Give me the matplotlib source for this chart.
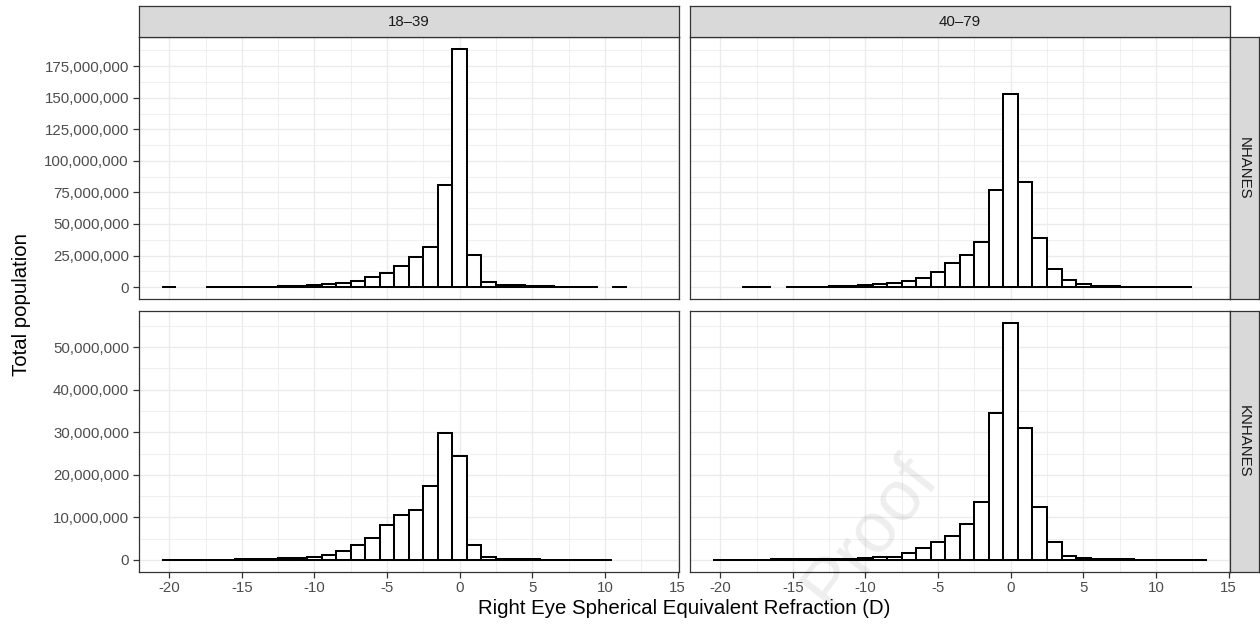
import matplotlib
matplotlib.use("Agg")
import matplotlib.pyplot as plt
from matplotlib.ticker import FuncFormatter, MultipleLocator

plt.rcParams['font.family'] = ['Liberation Sans', 'DejaVu Sans']

# ---------------- data (values in millions of persons) ----------------
age_groups = ["18\u201339", "40\u201379"]
surveys = ["NHANES", "KNHANES"]

# NHANES 18-39
bins_nh_young = [-20, -17, -16, -15, -14, -13, -12, -11, -10, -9, -8, -7, -6, -5, -4, -3, -2, -1,
                 0, 1, 2, 3, 4, 5, 6, 7, 8, 9, 11]
vals_nh_young = [0.15, 0.1, 0.1, 0.15, 0.2, 0.3, 0.5, 0.8, 1.3, 2.1, 3.1, 4.6, 8.3, 10.9, 16.8, 23.6, 32.0, 81.1,
                 188.5, 25.1, 4.2, 1.9, 1.3, 0.7, 0.5, 0.4, 0.3, 0.2, 0.1]

# NHANES 40-79
bins_nh_old = [-18, -17, -15, -14, -13, -12, -11, -10, -9, -8, -7, -6, -5, -4, -3, -2, -1,
               0, 1, 2, 3, 4, 5, 6, 7, 8, 9, 10, 11, 12]
vals_nh_old = [0.1, 0.1, 0.2, 0.3, 0.4, 0.5, 0.8, 1.3, 2.1, 3.4, 4.7, 6.9, 12.3, 18.8, 25.4, 35.5, 76.7,
               153.0, 83.6, 38.6, 14.4, 5.5, 2.6, 1.2, 0.6, 0.4, 0.3, 0.2, 0.2, 0.1]

# KNHANES 18-39
bins_kn_young = list(range(-20, 11))
vals_kn_young = [0.02, 0.02, 0.03, 0.05, 0.05, 0.1, 0.12, 0.15, 0.35, 0.45, 0.7, 1.1, 2.1, 3.4, 5.2, 8.2,
                 10.5, 11.7, 17.4, 29.8, 24.4, 3.4, 0.6, 0.3, 0.15, 0.1, 0.05, 0.05, 0.03, 0.02, 0.02]

# KNHANES 40-79
bins_kn_old = list(range(-20, 14))
vals_kn_old = [0.02, 0.02, 0.03, 0.05, 0.08, 0.1, 0.15, 0.15, 0.2, 0.3, 0.5, 0.6, 0.7, 1.5, 2.7, 4.2,
               5.7, 8.5, 13.7, 34.5, 55.8, 31.1, 12.5, 4.2, 1.0, 0.45, 0.2, 0.1, 0.1, 0.05, 0.03, 0.03,
               0.03, 0.03]

MILLION = 1e6
panels = {
    ("NHANES", 0): (bins_nh_young, vals_nh_young),
    ("NHANES", 1): (bins_nh_old, vals_nh_old),
    ("KNHANES", 0): (bins_kn_young, vals_kn_young),
    ("KNHANES", 1): (bins_kn_old, vals_kn_old),
}
y_major = {"NHANES": 25e6, "KNHANES": 10e6}

x_title = "Right Eye Spherical Equivalent Refraction (D)"
y_title = "Total population"

# ---------------- layout ----------------
W, H = 1260, 630
fig = plt.figure(figsize=(W / 100, H / 100), dpi=100)


def ax_at(x0, y0, x1, y1, **kw):
    return fig.add_axes([x0 / W, 1 - y1 / H, (x1 - x0) / W, (y1 - y0) / H], **kw)


col_x = [(138.7, 678.7), (689.7, 1229.7)]
row_y = [(37.3, 299.0), (310.7, 571.7)]
strip_top = (6.0, 37.3)
strip_right = (1229.7, 1258.5)

GRID = "#EBEBEB"
EDGE = "#333333"
TICKTXT = "#4D4D4D"
fs_tick = 10.8
fs_title = 14.7

comma = FuncFormatter(lambda v, p: f"{int(round(v)):,}")
xfmt = FuncFormatter(lambda v, p: f"{int(round(v))}")

for r, survey in enumerate(surveys):
    row_max = max(max(panels[(survey, c)][1]) for c in range(2)) * MILLION
    for c in range(2):
        bins, vals = panels[(survey, c)]
        ax = ax_at(col_x[c][0], row_y[r][0], col_x[c][1], row_y[r][1])
        ax.set_facecolor("white")
        ax.bar(bins, [v * MILLION for v in vals], width=1.0, facecolor="white",
               edgecolor="black", linewidth=1.45, zorder=3)
        ax.set_xlim(-22.1, 15.08)
        ax.set_ylim(-0.05 * row_max, 1.05 * row_max)
        ax.xaxis.set_major_locator(MultipleLocator(5))
        ax.xaxis.set_minor_locator(MultipleLocator(2.5))
        ax.yaxis.set_major_locator(MultipleLocator(y_major[survey]))
        ax.yaxis.set_minor_locator(MultipleLocator(y_major[survey] / 2))
        ax.grid(which="major", color=GRID, linewidth=1.0, zorder=0)
        ax.grid(which="minor", color=GRID, linewidth=0.55, zorder=0)
        ax.set_axisbelow(True)
        for s in ax.spines.values():
            s.set_color(EDGE)
            s.set_linewidth(0.9)
        ax.tick_params(which="minor", length=0)
        ax.tick_params(which="major", direction="out", length=4.5, width=0.9, color=EDGE,
                       labelsize=fs_tick, labelcolor=TICKTXT, pad=2.5)
        ax.yaxis.set_major_formatter(comma)
        ax.xaxis.set_major_formatter(xfmt)
        if c != 0:
            ax.tick_params(axis="y", which="both", left=False, labelleft=False)
        if r != 1:
            ax.tick_params(axis="x", which="both", bottom=False, labelbottom=False)

# top strips
for c, lab in enumerate(age_groups):
    sax = ax_at(col_x[c][0], strip_top[0], col_x[c][1], strip_top[1])
    sax.set_facecolor("#D9D9D9")
    sax.set_xticks([]); sax.set_yticks([])
    for s in sax.spines.values():
        s.set_color(EDGE); s.set_linewidth(0.9)
    sax.text(0.5, 0.5, lab, transform=sax.transAxes, ha="center", va="center",
             fontsize=fs_tick, color="#1A1A1A")

# right strips
for r, lab in enumerate(surveys):
    sax = ax_at(strip_right[0], row_y[r][0], strip_right[1], row_y[r][1])
    sax.set_facecolor("#D9D9D9")
    sax.set_xticks([]); sax.set_yticks([])
    for s in sax.spines.values():
        s.set_color(EDGE); s.set_linewidth(0.9)
    sax.text(0.5, 0.5, lab, transform=sax.transAxes, ha="center", va="center",
             fontsize=fs_tick, color="#1A1A1A", rotation=-90)

# axis titles
fig.text((col_x[0][0] + col_x[1][1]) / 2 / W, 1 - 609 / H, x_title, ha="center", va="center",
         fontsize=fs_title, color="black")
fig.text(22 / W, 1 - (row_y[0][0] + row_y[1][1]) / 2 / H, y_title, ha="center", va="center",
         rotation=90, fontsize=fs_title, color="black")

# faint watermark
fig.text(870 / W, 1 - 532 / H, "Proof", ha="center", va="center", rotation=52,
         fontsize=52, color="black", alpha=0.07, zorder=10)

fig.savefig("out.png", dpi=100)
